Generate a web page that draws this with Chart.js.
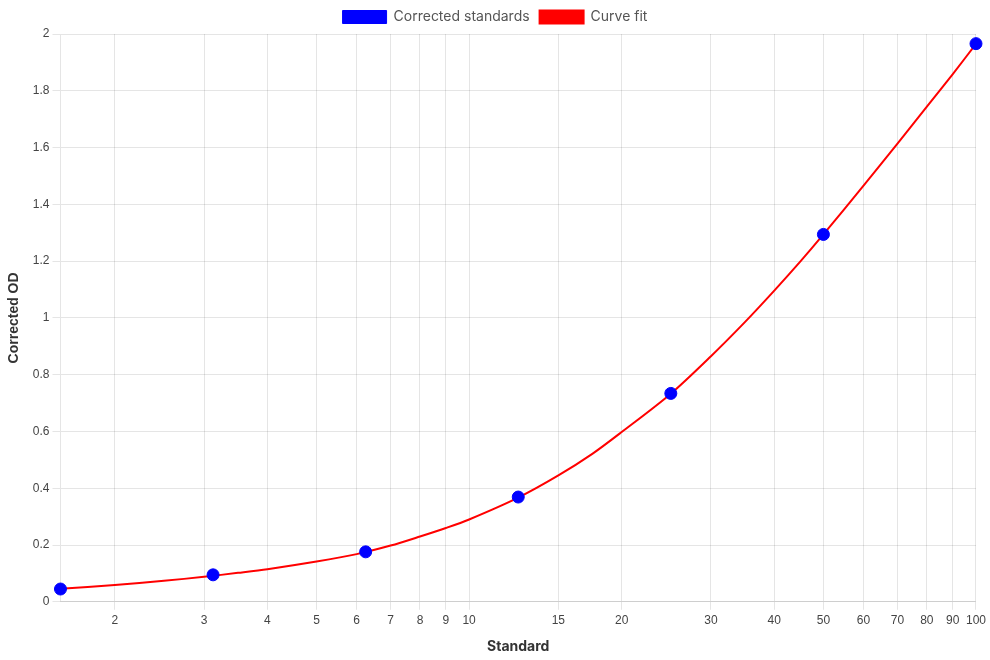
<!DOCTYPE html>
<html>
<head>
<meta charset="utf-8">
<script src="https://cdn.jsdelivr.net/npm/chart.js@4"></script>
<style>
  html, body { margin: 0; padding: 0; background: #fff; }
  #wrap { width: 990px; height: 660px; position: relative; }
</style>
</head>
<body>
<div id="wrap"><canvas id="c"></canvas></div>
<script>
// Standards (concentration) and corrected OD
const standards = [1.5625, 3.125, 6.25, 12.5, 25, 50, 100];
const correctedOD = [0.045, 0.095, 0.176, 0.369, 0.734, 1.294, 1.966];

// Curve fit samples
const fitX = [1.5625, 2, 2.5, 3, 3.5, 4, 5, 6, 7, 8, 9, 10, 12.5, 15, 17.5, 20, 25, 30, 35, 40, 45, 50, 60, 70, 80, 90, 100];
const fitY = [0.046, 0.059, 0.074, 0.088, 0.102, 0.115, 0.142, 0.168, 0.198, 0.230, 0.260, 0.290, 0.367, 0.445, 0.521, 0.598, 0.733, 0.865, 0.985, 1.096, 1.198, 1.294, 1.466, 1.614, 1.744, 1.859, 1.965];

// Tick values
const yMin = 0, yMax = 2, yStep = 0.2;

const titleFont = "Inter";
const tickFont = "'Liberation Sans', Arial, sans-serif";

new Chart(document.getElementById('c'), {
  type: 'scatter',
  data: {
    datasets: [
      {
        label: 'Corrected standards',
        data: standards.map((x, i) => ({ x: x, y: correctedOD[i] })),
        backgroundColor: 'blue',
        borderColor: 'blue',
        pointRadius: 6,
        pointHoverRadius: 6,
        borderWidth: 1,
        showLine: false
      },
      {
        label: 'Curve fit',
        data: fitX.map((x, i) => ({ x: x, y: fitY[i] })),
        backgroundColor: 'red',
        borderColor: 'red',
        borderWidth: 2,
        pointRadius: 0,
        showLine: true,
        tension: 0.3
      }
    ]
  },
  options: {
    responsive: true,
    maintainAspectRatio: false,
    animation: false,
    layout: { padding: { left: 0, bottom: 1 } },
    plugins: {
      legend: {
        labels: {
          boxWidth: 44,
          boxHeight: 13,
          font: { family: titleFont, size: 14 },
          color: '#555'
        }
      },
      tooltip: { enabled: false }
    },
    scales: {
      x: {
        type: 'logarithmic',
        title: {
          display: true,
          text: 'Standard',
          padding: { top: 6, bottom: 4 },
          font: { family: titleFont, size: 14, weight: 'bold' },
          color: '#333'
        },
        ticks: {
          padding: 4,
          font: { family: tickFont, size: 12 },
          color: '#444',
          autoSkip: false,
          maxRotation: 0,
          callback: function (v) {
            return String(v);
          }
        }
      },
      y: {
        min: yMin,
        max: yMax,
        title: {
          display: true,
          text: 'Corrected OD',
          padding: { top: 6, bottom: 7 },
          font: { family: tickFont, size: 14, weight: 'bold' },
          color: '#333'
        },
        ticks: {
          stepSize: yStep,
          font: { family: tickFont, size: 12 },
          color: '#444',
          callback: function (v) {
            return String(Number(v.toFixed(2)));
          }
        }
      }
    }
  }
});
</script>
</body>
</html>
